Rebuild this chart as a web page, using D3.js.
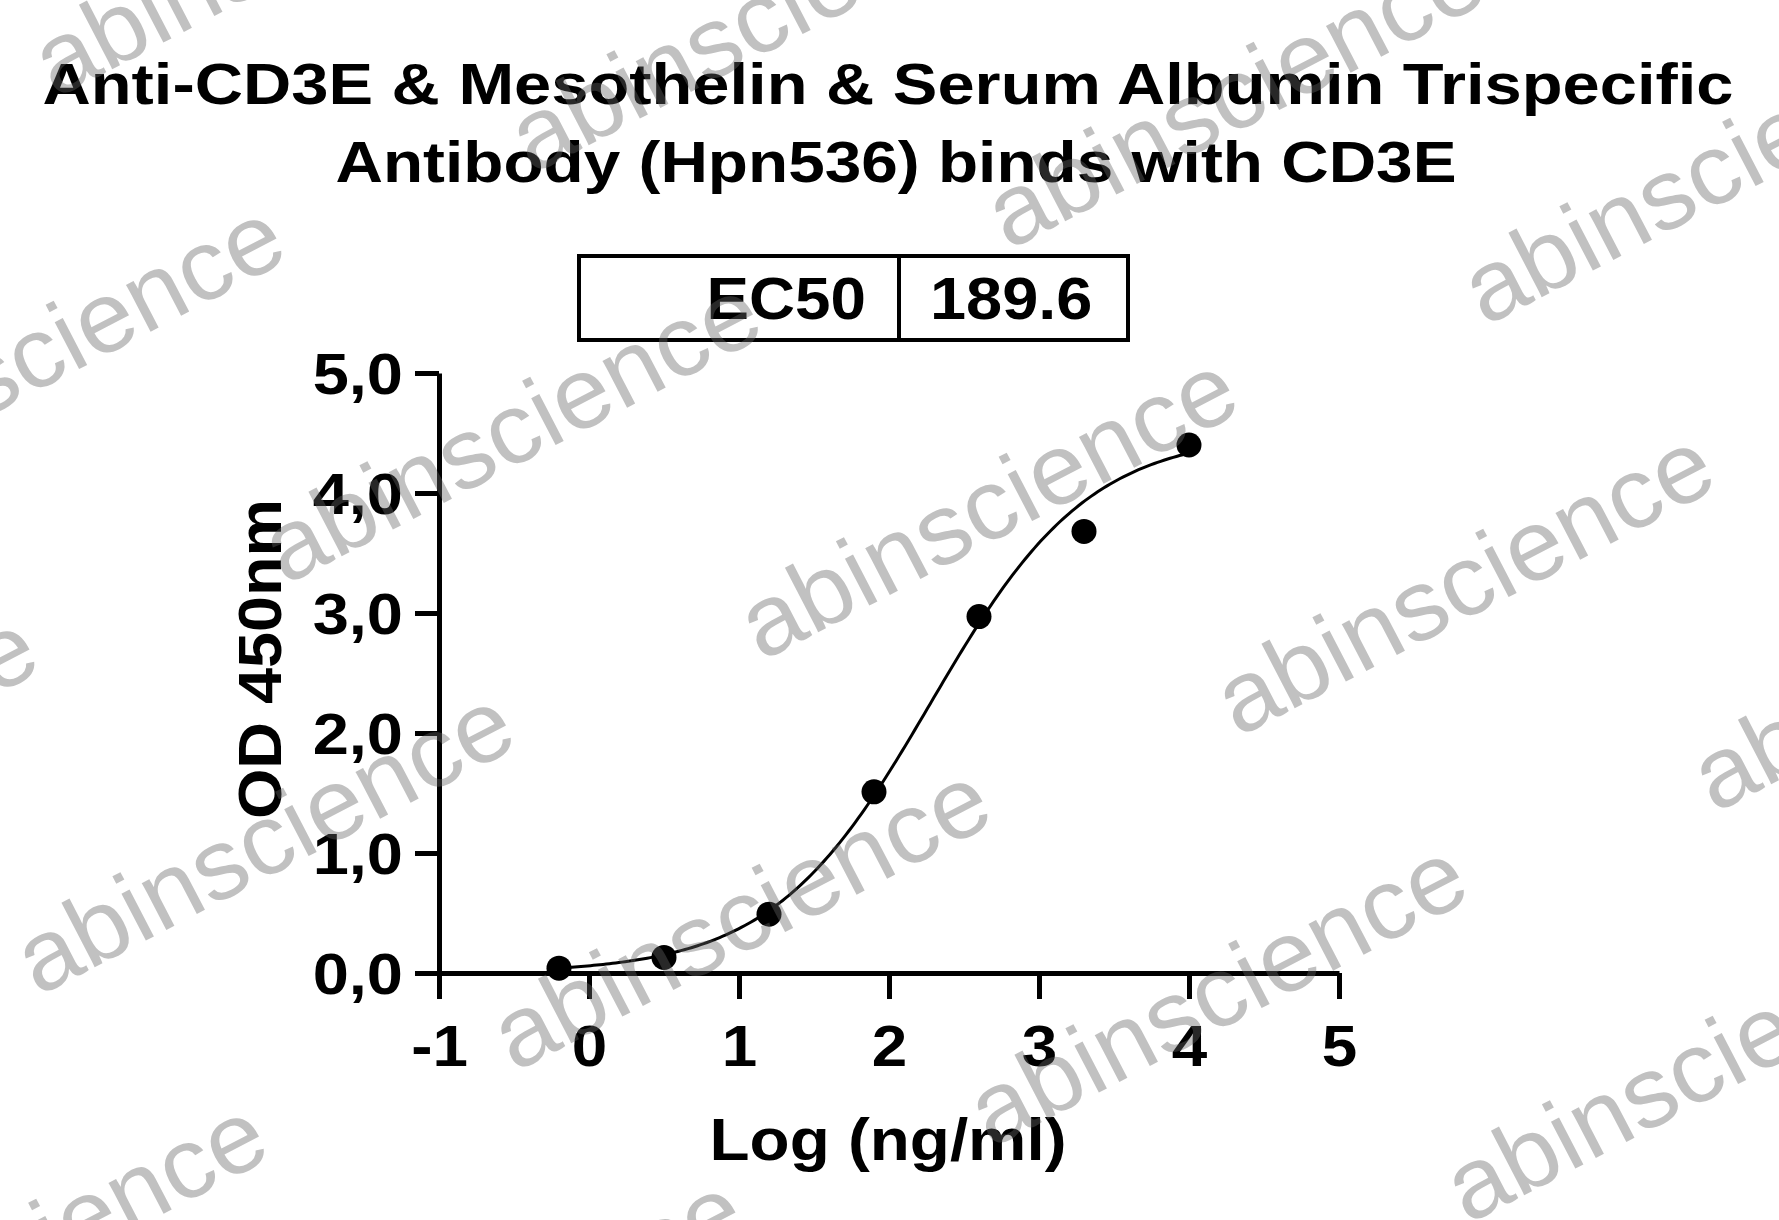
<!DOCTYPE html>
<html>
<head>
<meta charset="utf-8">
<script src="https://cdn.jsdelivr.net/npm/d3@7"></script>
<style>
    body { margin: 0; background: #fff; }
    #chart { width: 1779px; height: 1220px; }
    text { font-family: Arial, "Liberation Sans", sans-serif; }
</style>
</head>
<body>
<div id="chart"></div>
<script>
    // data
    const logConc = [-0.2, 0.5, 1.2, 1.9, 2.6, 3.3, 4.0];
    const od450 = [0.04, 0.13, 0.49, 1.51, 2.97, 3.68, 4.40];
    const xTicks = [-1, 0, 1, 2, 3, 4, 5];
    const yTicks = [0, 1, 2, 3, 4, 5];
    const titleLines = ["Anti-CD3E & Mesothelin & Serum Albumin Trispecific", "Antibody (Hpn536) binds with CD3E"];
    const ec50Label = "EC50";
    const ec50Value = "189.6";
    // 4PL fit (bottom, top, hill slope, log EC50)
    const fitBottom = 0, fitTop = 4.5, fitHill = 0.82, fitLogEC50 = Math.log10(189.6);

    const width = 1779, height = 1220;
    const svg = d3.select("#chart").append("svg")
        .attr("width", width).attr("height", height);

    const x = d3.scaleLinear().domain([-1, 5]).range([439, 1339]);
    const y = d3.scaleLinear().domain([0, 5]).range([973, 373]);

    // text is a bit wider than plain Arial in the original
    function stretch(sel, k) {
        sel.each(function() {
            const len = this.getComputedTextLength();
            d3.select(this).attr("textLength", len * k).attr("lengthAdjust", "spacingAndGlyphs");
        });
    }

    // title
    svg.append("text").attr("x", 888).attr("y", 104)
        .attr("text-anchor", "middle").attr("font-size", 58).attr("font-weight", "bold")
        .attr("textLength", 1691).attr("lengthAdjust", "spacingAndGlyphs")
        .text(titleLines[0]);
    svg.append("text").attr("x", 896).attr("y", 182)
        .attr("text-anchor", "middle").attr("font-size", 58).attr("font-weight", "bold")
        .attr("textLength", 1121).attr("lengthAdjust", "spacingAndGlyphs")
        .text(titleLines[1]);

    // EC50 box
    const box = svg.append("g");
    box.append("rect").attr("x", 579).attr("y", 256).attr("width", 549).attr("height", 84)
        .attr("fill", "none").attr("stroke", "#000").attr("stroke-width", 4);
    box.append("line").attr("x1", 899).attr("x2", 899).attr("y1", 256).attr("y2", 340)
        .attr("stroke", "#000").attr("stroke-width", 4);
    box.append("text").attr("x", 866).attr("y", 319).attr("text-anchor", "end")
        .attr("font-size", 59).attr("font-weight", "bold").text(ec50Label).call(stretch, 1.08);
    box.append("text").attr("x", 930).attr("y", 319).attr("text-anchor", "start")
        .attr("font-size", 59).attr("font-weight", "bold").text(ec50Value).call(stretch, 1.1);

    // axes
    const xAxis = svg.append("g").attr("transform", `translate(0,${y(0)})`)
        .call(d3.axisBottom(x).tickValues(xTicks).tickSize(26).tickPadding(10).tickSizeOuter(0)
            .tickFormat(d => String(d)));
    const yAxis = svg.append("g").attr("transform", `translate(${x(-1)},0)`)
        .call(d3.axisLeft(y).tickValues(yTicks).tickSize(24).tickPadding(12).tickSizeOuter(0)
            .tickFormat(d => d.toFixed(1).replace(".", ",")));

    [xAxis, yAxis].forEach(ax => {
        ax.select(".domain").attr("stroke", "#000").attr("stroke-width", 5);
        ax.selectAll(".tick line").attr("stroke", "#000").attr("stroke-width", 5);
        ax.selectAll(".tick text").attr("fill", "#000").attr("font-size", 58)
            .attr("font-weight", "bold").attr("font-family", "Arial, 'Liberation Sans', sans-serif");
    });
    xAxis.selectAll(".tick text").attr("dy", null).attr("y", 93).call(stretch, 1.1);
    yAxis.selectAll(".tick text").attr("dy", "0.36em").call(stretch, 1.12);

    // axis titles
    svg.append("text").attr("transform", "translate(281,659) rotate(-90)")
        .attr("text-anchor", "middle").attr("font-size", 62).attr("font-weight", "bold")
        .attr("textLength", 320).attr("lengthAdjust", "spacingAndGlyphs")
        .text("OD 450nm");
    svg.append("text").attr("x", 888).attr("y", 1160)
        .attr("text-anchor", "middle").attr("font-size", 59).attr("font-weight", "bold")
        .attr("textLength", 357).attr("lengthAdjust", "spacingAndGlyphs")
        .text("Log (ng/ml)");

    // fitted curve
    const fit = v => fitBottom + (fitTop - fitBottom) / (1 + Math.pow(10, (fitLogEC50 - v) * fitHill));
    const curveX = d3.range(0, 201).map(i => d3.min(logConc) + i * (d3.max(logConc) - d3.min(logConc)) / 200);
    svg.append("path")
        .datum(curveX)
        .attr("fill", "none").attr("stroke", "#000").attr("stroke-width", 3)
        .attr("d", d3.line().x(d => x(d)).y(d => y(fit(d))).curve(d3.curveBasis));

    // points
    svg.append("g").selectAll("circle")
        .data(logConc.map((d, i) => ({ x: d, y: od450[i] })))
        .join("circle")
        .attr("cx", d => x(d.x)).attr("cy", d => y(d.y)).attr("r", 12.5)
        .attr("fill", "#000");

    // watermark lattice
    const wmOrigin = [987, 505], wmU = [476.5, 76], wmV = [-247, 411];
    const wm = svg.append("g").attr("pointer-events", "none");
    for (let i = -5; i <= 5; i++) {
        for (let j = -3; j <= 4; j++) {
            const cx = wmOrigin[0] + i * wmU[0] + j * wmV[0];
            const cy = wmOrigin[1] + i * wmU[1] + j * wmV[1];
            if (cx < -400 || cx > width + 400 || cy < -200 || cy > height + 200) continue;
            wm.append("text")
                .attr("transform", `translate(${cx},${cy}) rotate(-27.5)`)
                .attr("text-anchor", "middle").attr("dy", "0.35em")
                .attr("font-size", 100).attr("fill", "#646464").attr("fill-opacity", 0.4)
                .attr("textLength", 545).attr("lengthAdjust", "spacingAndGlyphs")
                .text("abinscience");
        }
    }
</script>
</body>
</html>
